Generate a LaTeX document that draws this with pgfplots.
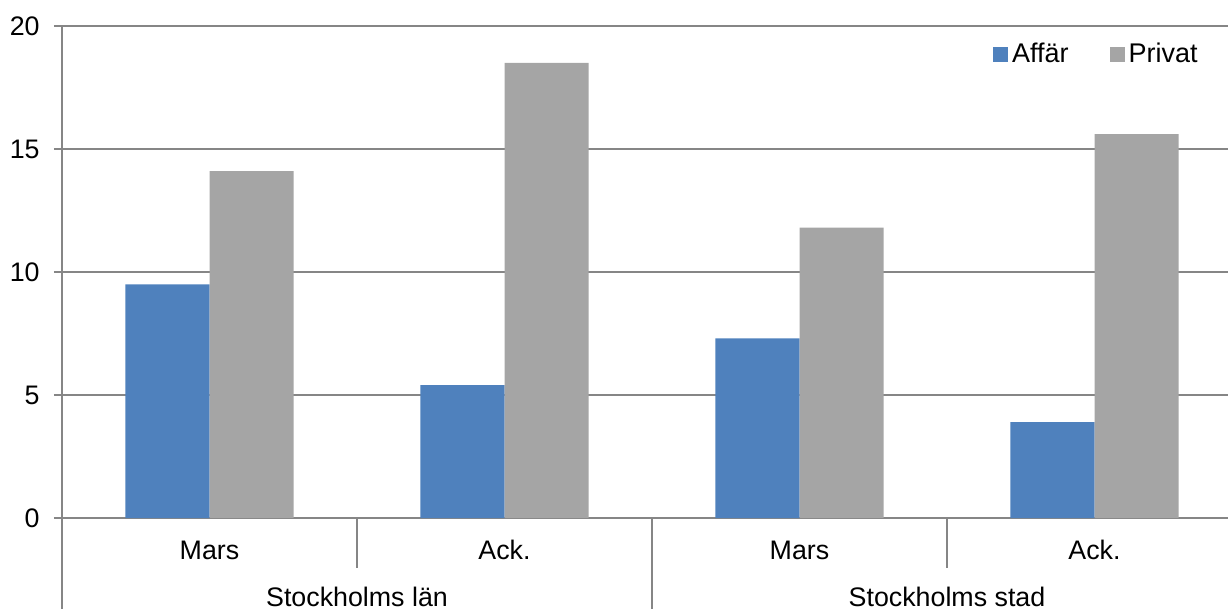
\documentclass[border=0pt]{standalone}
\usepackage{fontspec}
\setmainfont{Liberation Sans}
\usepackage{pgfplots}
\pgfplotsset{compat=1.18}

\definecolor{affar}{RGB}{79,129,189}
\definecolor{privat}{RGB}{165,165,165}
\definecolor{axgray}{RGB}{134,134,134}

\begin{document}
\begin{tikzpicture}
\begin{axis}[
    scale only axis,
    width=590pt, height=246pt,
    ymin=0, ymax=20,
    xmin=-0.5, xmax=3.5,
    ytick={0,5,10,15,20},
    xtick={0,1,2,3},
    xticklabels={Mars, Ack., Mars, Ack.},
    ybar=0pt,
    bar width=0.285,
    axis lines=left,
    axis line style={-, draw=axgray, line width=0.6pt},
    ymajorgrids,
    grid style={draw=axgray, line width=0.6pt},
    tick align=outside,
    major tick length=4pt,
    xtick style={draw=none},
    ytick style={draw=axgray, line width=0.6pt},
    /pgf/number format/assume math mode=true,
    ticklabel style={font=\fontsize{13.4}{15}\selectfont},
    yticklabel style={anchor=east, inner sep=0pt, xshift=-7pt},
    xticklabel style={anchor=base, inner sep=0pt, yshift=-16.5pt},
    legend style={draw=none, fill=none, legend columns=2,
        font=\fontsize{13.5}{15}\selectfont,
        at={(rel axis cs:1,1)}, anchor=north east, xshift=-17pt, yshift=-4.5pt,
        /tikz/every even column/.append style={column sep=18.5pt}},
    legend image code/.code={\fill[#1, draw=none] (0pt,-3.75pt) rectangle (7.5pt,3.75pt);},
    clip=false,
]
\addplot[fill=affar, draw=none] coordinates {(0,9.5) (1,5.4) (2,7.3) (3,3.9)};
\addlegendentry{Affär}
\addplot[fill=privat, draw=none] coordinates {(0,14.1) (1,18.5) (2,11.8) (3,15.6)};
\addlegendentry{Privat}

% category separators
\draw[axgray, line width=0.6pt] (axis cs:0.5,0) -- ++(0pt,-25pt);
\draw[axgray, line width=0.6pt] (axis cs:2.5,0) -- ++(0pt,-25pt);
\draw[axgray, line width=0.6pt] (axis cs:-0.5,0) -- ++(0pt,-45.5pt);
\draw[axgray, line width=0.6pt] (axis cs:1.5,0) -- ++(0pt,-45.5pt);
% group labels
\node[anchor=base, inner sep=0pt, font=\fontsize{13.4}{15}\selectfont] at ([yshift=-44pt]axis cs:0.5,0) {Stockholms län};
\node[anchor=base, inner sep=0pt, font=\fontsize{13.4}{15}\selectfont] at ([yshift=-44pt]axis cs:2.5,0) {Stockholms stad};

\coordinate (ll) at (rel axis cs:0,0);
\coordinate (ur) at (rel axis cs:1,1);
\end{axis}
\pgfresetboundingbox
\path ([shift={(-31pt,-45.5pt)}]ll) rectangle ([shift={(-7pt,13pt)}]ur);
\end{tikzpicture}
\end{document}
